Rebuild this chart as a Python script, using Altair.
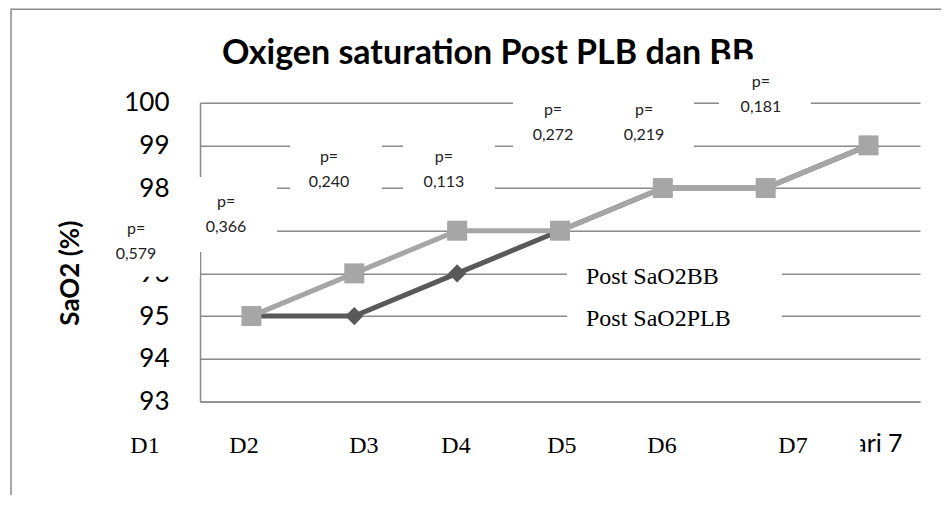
import altair as alt
import pandas as pd

# ---- data ----
days = [1, 2, 3, 4, 5, 6, 7]
bb = [95, 96, 97, 97, 98, 98, 99]
plb = [95, 95, 96, 97, 98, 98, 99]
series_names = ["Post SaO2PLB", "Post SaO2BB"]
y_ticks = [93, 94, 95, 96, 97, 98, 99, 100]

title_text = "Oxigen saturation Post PLB dan BB"
title_x = 3.3
title_y = 100.9

# overlaid day labels (data units)
d_labels = ["D1", "D2", "D3", "D4", "D5", "D6", "D7"]
d_x = [-0.035, 0.928, 2.094, 2.989, 4.019, 4.992, 6.265]
d_y = 91.79

# p-value annotations (data units, baseline of the number line)
p_vals = ["0,579", "0,366", "0,240", "0,113", "0,272", "0,219", "0,181"]
p_x = [-0.122, 0.753, 1.754, 2.872, 3.932, 4.817, 5.954]
p_y = [96.335, 96.97, 98.024, 98.024, 99.126, 99.126, 99.78]

# legend-like labels
leg_text = ["Post SaO2BB", "Post SaO2PLB"]
leg_x = 4.253
leg_y = [95.74, 94.77]

# white text boxes covering gridlines (data units)
box_x = [-0.375, 0.46, 1.375, 2.474, 3.543, 5.546, 4.068, 6.55]
box_x2 = [0.5, 1.249, 2.269, 3.368, 5.303, 6.44, 6.158, 6.92]
box_y = [97.72, 98.26, 99.17, 99.17, 100.25, 101.02, 96.35, 92.44]
box_y2 = [95.92, 96.50, 97.84, 97.84, 98.65, 99.59, 94.60, 91.40]

# ---- frames ----
df = pd.DataFrame({
    "day": days * 2,
    "val": plb + bb,
    "series": [series_names[0]] * 7 + [series_names[1]] * 7,
})
df_plb = df[df.series == series_names[0]]
df_bb = df[df.series == series_names[1]]
boxes = pd.DataFrame({"x": box_x, "x2": box_x2, "y": box_y, "y2": box_y2})
dl = pd.DataFrame({"t": d_labels, "x": d_x, "y": [d_y] * 7})
pv = pd.DataFrame({"t": p_vals, "x": p_x, "y": p_y, "yp": [v + 0.58 for v in p_y]})
lg = pd.DataFrame({"t": leg_text, "x": [leg_x] * 2, "y": leg_y})
tt = pd.DataFrame({"t": [title_text], "x": [title_x], "y": [title_y]})

GRID = "#8a8a8a"
xs = alt.Scale(domain=[0.5, 7.5], nice=False, zero=False)
ys = alt.Scale(domain=[93, 100], nice=False, zero=False)

X = alt.X("day:Q", scale=xs, axis=alt.Axis(
    values=[7], labelExpr="'Hari ' + datum.value", title=None, grid=False,
    ticks=False, domainColor=GRID, domainWidth=1.5, labelFont="Lato",
    labelFontSize=25, labelColor="black", labelPadding=30))
Y = alt.Y("val:Q", scale=ys, axis=alt.Axis(
    values=y_ticks, title="SaO2 (%)", grid=True,
    gridColor=GRID, gridWidth=1.5, ticks=False, domainColor=GRID, domainWidth=1.5,
    labelFont="Lato", labelFontSize=26, labelColor="black", labelPadding=31,
    titleFont="Lato", titleFontSize=26, titleFontWeight="bold", titleColor="black",
    titleAngle=270, titleBaseline="middle", titleX=-130, titleY=170))

base_plb = alt.Chart(df_plb)
base_bb = alt.Chart(df_bb)

line_plb = base_plb.mark_line(color="#595959", strokeWidth=5).encode(x=X, y=Y)
pt_plb = base_plb.mark_point(shape="diamond", filled=True, size=330, color="#595959", opacity=1).encode(x="day:Q", y="val:Q")
line_bb = base_bb.mark_line(color="#a6a6a6", strokeWidth=5).encode(x="day:Q", y="val:Q")
pt_bb = base_bb.mark_point(shape="square", filled=True, size=400, color="#a6a6a6", opacity=1).encode(x="day:Q", y="val:Q")

ttext = alt.Chart(tt).mark_text(font="Lato", fontSize=34, fontWeight="bold", align="center",
                                baseline="alphabetic", color="black").encode(
    x=alt.X("x:Q", scale=xs), y=alt.Y("y:Q", scale=ys), text="t:N")

rects = alt.Chart(boxes).mark_rect(color="white").encode(
    x=alt.X("x:Q", scale=xs), x2="x2:Q", y=alt.Y("y:Q", scale=ys), y2="y2:Q")

dtext = alt.Chart(dl).mark_text(font="Liberation Serif", fontSize=24, align="center",
                                baseline="alphabetic", color="black").encode(
    x=alt.X("x:Q", scale=xs), y=alt.Y("y:Q", scale=ys), text="t:N")

ptext = alt.Chart(pv).mark_text(font="Lato", fontSize=16, align="center",
                                baseline="alphabetic", color="#222").encode(
    x=alt.X("x:Q", scale=xs), y=alt.Y("y:Q", scale=ys), text="t:N")
ptext2 = alt.Chart(pv).mark_text(font="Lato", fontSize=16, align="center",
                                 baseline="alphabetic", color="#222", text="p=").encode(
    x=alt.X("x:Q", scale=xs), y=alt.Y("yp:Q", scale=ys))

ltext = alt.Chart(lg).mark_text(font="Liberation Serif", fontSize=24, align="left",
                                baseline="alphabetic", color="black").encode(
    x=alt.X("x:Q", scale=xs), y=alt.Y("y:Q", scale=ys), text="t:N")

border_left = alt.Chart(boxes.head(1)).mark_rule(color=GRID, strokeWidth=1.5).encode(
    x=alt.value(-189), y=alt.value(-94), y2=alt.value(400))
border_top = alt.Chart(boxes.head(1)).mark_rule(color=GRID, strokeWidth=1.5).encode(
    x=alt.value(-189), x2=alt.value(745), y=alt.value(-93.5))

chart = alt.layer(
    line_plb, pt_plb, line_bb, pt_bb, ttext, rects, dtext, ptext, ptext2, ltext,
    border_left, border_top
).properties(
    width=720, height=298.7,
    autosize=alt.AutoSizeParams(type="none"),
    padding={"left": 192, "top": 94.7, "right": 21, "bottom": 94},
).configure_view(strokeWidth=0)

chart.save("out.html", embed_options={"renderer": "svg", "actions": False})
